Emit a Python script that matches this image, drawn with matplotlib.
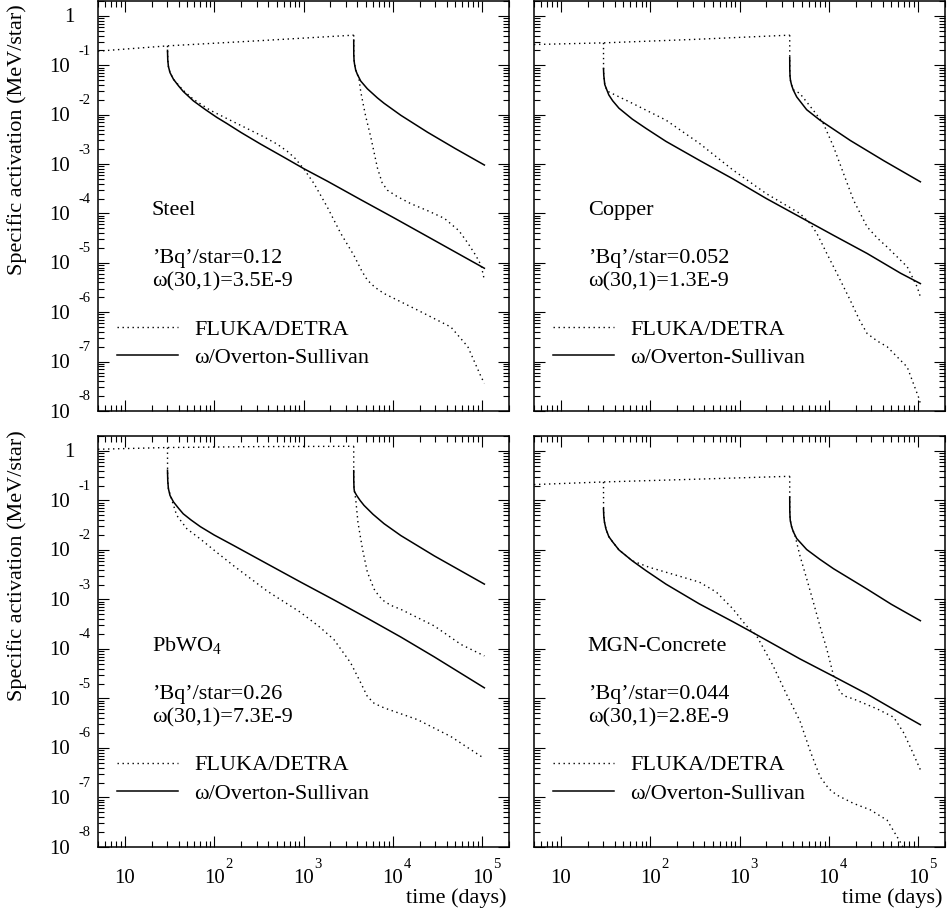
import numpy as np
import matplotlib
matplotlib.use("Agg")
import matplotlib.pyplot as plt
from matplotlib.lines import Line2D
from matplotlib.ticker import LogLocator, NullFormatter

plt.rcParams.update({
    "font.family": "Liberation Serif",
    "mathtext.fontset": "custom",
    "mathtext.rm": "Liberation Serif",
    "mathtext.it": "Liberation Serif:italic",
    "axes.linewidth": 1.1,
})

# ---------------------------------------------------------------------------
# Specific activation (MeV/star) versus time (days).
# Irradiation starts at t=0; cooling curves after 30 d and 3650 d irradiation.
# FD = FLUKA/DETRA, OS = omega/Overton-Sullivan
# ---------------------------------------------------------------------------

# Steel
STEEL_BUILD_T = [5, 30, 300, 3650]
STEEL_BUILD_A = [0.193, 0.247, 0.312, 0.407]
STEEL_FD30_T = [30, 30.05, 30.2, 30.7, 32, 35, 40, 45, 58.5, 90, 139, 329, 500, 656,
                800, 1000, 1306, 1845, 2606, 3673, 4500, 5190, 6300, 7943, 19000, 44700,
                69200, 97500, 1.06e5]
STEEL_FD30_A = [0.247, 0.200, 0.130, 0.095, 0.071, 0.052, 0.0395, 0.031, 0.0205, 0.0123,
                8.32e-3, 3.85e-3, 2.57e-3, 1.82e-3, 1.32e-3, 8.13e-4, 4.07e-4, 1.35e-4,
                3.98e-5, 1.41e-5, 6.8e-6, 4.47e-6, 3.2e-6, 2.40e-6, 1.10e-6, 5.01e-7,
                2.0e-7, 4.90e-8, 3.63e-8]
STEEL_OS30_T = [30, 30.2, 30.7, 32, 35, 40, 45, 58.5, 80, 107, 139, 200, 329, 600, 1000,
                1850, 4370, 10350, 24500, 1.06e5]
STEEL_OS30_A = [0.200, 0.130, 0.095, 0.071, 0.052, 0.038, 0.0295, 0.0190, 0.0126, 8.8e-3,
                6.6e-3, 4.35e-3, 2.55e-3, 1.38e-3, 8.13e-4, 4.5e-4, 1.9e-4, 8.1e-5, 3.4e-5,
                7.76e-6]
STEEL_FD3650_T = [3650, 3651, 3655, 3680, 3720, 3840, 4000, 4170, 4370, 4700, 4980, 5660,
                  6730, 7600, 8710, 11000, 15850, 25000, 37800, 55000, 69200, 85000,
                  97500, 1.06e5]
STEEL_FD3650_A = [0.407, 0.324, 0.17, 0.128, 0.108, 0.080, 0.066, 0.055, 0.0295, 0.0151,
                  9.12e-3, 3.55e-3, 8.3e-4, 4.17e-4, 2.95e-4, 2.24e-4, 1.58e-4, 1.12e-4,
                  7.94e-5, 4.47e-5, 2.51e-5, 1.41e-5, 8.91e-6, 4.47e-6]
STEEL_OS3650_T = [3650, 3655, 3680, 3720, 3840, 4000, 4370, 5190, 6730, 7980, 12300,
                  24500, 50000, 1.06e5]
STEEL_OS3650_A = [0.324, 0.17, 0.128, 0.108, 0.080, 0.066, 0.048, 0.0334, 0.0218, 0.0170,
                  9.7e-3, 4.4e-3, 2.06e-3, 9.55e-4]

# Copper
COPPER_BUILD_T = [5, 30, 300, 3650]
COPPER_BUILD_A = [0.263, 0.284, 0.333, 0.407]
COPPER_FD30_T = [30, 30.05, 30.2, 31, 33, 63, 150, 355, 843, 2000, 4740, 6150, 7330,
                 9490, 12300, 17400, 22000, 26800, 35000, 45000, 75500, 1.02e5, 1.06e5]
COPPER_FD30_A = [0.284, 0.0861, 0.0631, 0.0407, 0.030, 0.0170, 7.76e-3, 2.63e-3,
                 7.59e-4, 2.51e-4, 1.0e-4, 6.31e-5, 3.98e-5, 1.55e-5, 6.17e-6, 1.74e-6,
                 7.0e-7, 3.72e-7, 2.6e-7, 2.0e-7, 7.76e-8, 1.82e-8, 1.41e-8]
COPPER_OS30_T = [30, 30.2, 31, 34.4, 38, 44.7, 63, 90, 150, 355, 843, 2000, 4740, 11200,
                 26800, 63500, 1.06e5]
COPPER_OS30_A = [0.0861, 0.0631, 0.0407, 0.0251, 0.0191, 0.0135, 8.13e-3, 5.25e-3,
                 2.88e-3, 1.19e-3, 5.01e-4, 2.0e-4, 8.51e-5, 3.63e-5, 1.55e-5, 6.17e-6,
                 3.80e-6]
COPPER_FD3650_T = [3650, 3651, 3655, 3680, 3720, 3830, 4000, 4740, 6700, 8690, 11300,
                   14600, 18900, 26800, 35000, 45000, 75500, 97700, 1.06e5]
COPPER_FD3650_A = [0.407, 0.145, 0.085, 0.0600, 0.0494, 0.0398, 0.0320, 0.0269, 0.0123,
                   6.61e-3, 2.24e-3, 6.46e-4, 1.86e-4, 5.37e-5, 3.16e-5, 2.09e-5, 8.32e-6,
                   3.24e-6, 2.04e-6]
COPPER_OS3650_T = [3650, 3655, 3680, 3720, 3830, 4000, 4370, 5650, 7940, 17400, 41200,
                   1.06e5]
COPPER_OS3650_A = [0.145, 0.085, 0.0600, 0.0494, 0.0398, 0.0316, 0.0229, 0.0126, 7.76e-3,
                   3.0e-3, 1.17e-3, 4.37e-4]

# PbWO4
PBWO4_BUILD_T = [5, 30, 300, 3650]
PBWO4_BUILD_A = [1.08, 1.17, 1.22, 1.24]
PBWO4_FD30_T = [30, 30.05, 30.2, 30.7, 32.6, 38, 49.3, 70, 107, 165, 391, 925, 1500,
                2190, 3370, 4200, 5190, 6200, 7980, 19000, 44700, 97500, 1.06e5]
PBWO4_FD30_A = [1.17, 0.407, 0.251, 0.174, 0.120, 0.0501, 0.0269, 0.0166, 8.91e-3,
                4.79e-3, 1.48e-3, 5.50e-4, 2.82e-4, 1.55e-4, 5.25e-5, 2.4e-5, 1.10e-5,
                7.94e-6, 6.46e-6, 3.72e-6, 1.70e-6, 6.76e-7, 6.24e-7]
PBWO4_OS30_T = [30, 30.2, 30.7, 32, 35, 40, 45, 55, 70, 100, 165, 391, 925, 2190, 5190,
                12300, 29100, 1.06e5]
PBWO4_OS30_A = [0.407, 0.251, 0.174, 0.126, 0.0933, 0.069, 0.0537, 0.0403, 0.0295,
                0.0200, 0.0123, 5.25e-3, 2.25e-3, 9.8e-4, 4.17e-4, 1.74e-4, 6.92e-5,
                1.64e-5]
PBWO4_FD3650_T = [3650, 3651, 3655, 3680, 3840, 4070, 4300, 4570, 5190, 6170, 7000,
                  7940, 9500, 12300, 29100, 58100, 1.06e5]
PBWO4_FD3650_A = [1.24, 0.398, 0.251, 0.174, 0.107, 0.0363, 0.020, 0.0105, 3.55e-3,
                  1.62e-3, 1.17e-3, 9.33e-4, 7.6e-4, 6.31e-4, 2.92e-4, 1.23e-4, 7.24e-5]
PBWO4_OS3650_T = [3650, 3655, 3680, 3720, 3940, 4300, 4760, 6000, 7980, 12300, 29100,
                  1.06e5]
PBWO4_OS3650_A = [0.398, 0.251, 0.174, 0.151, 0.126, 0.100, 0.0794, 0.0525, 0.0339,
                  0.0195, 7.59e-3, 2.04e-3]

# MGN-Concrete
CONCRETE_BUILD_T = [5, 30, 300, 3650]
CONCRETE_BUILD_A = [0.209, 0.236, 0.267, 0.307]
CONCRETE_FD30_T = [30, 30.05, 30.2, 30.7, 32, 34.4, 38, 44.7, 63, 97, 150, 231, 355,
                   550, 843, 1190, 1550, 2380, 3370, 4740, 6300, 7980, 10000, 12300,
                   18900, 29200, 45000, 63100, 70000]
CONCRETE_FD30_A = [0.236, 0.0679, 0.0501, 0.0371, 0.0263, 0.0186, 0.0145, 0.0100,
                   6.03e-3, 4.47e-3, 3.55e-3, 2.82e-3, 2.24e-3, 1.41e-3, 6.46e-4, 2.95e-4,
                   1.86e-4, 4.57e-5, 1.20e-5, 3.55e-6, 7.94e-7, 2.63e-7, 1.5e-7, 1.12e-7,
                   7.59e-8, 5.62e-8, 3.47e-8, 1.26e-8, 8.91e-9]
CONCRETE_OS30_T = [30, 30.2, 30.7, 32, 34.4, 38, 44.7, 63, 90, 150, 355, 843, 1410,
                   4740, 11200, 26800, 75500, 1.06e5]
CONCRETE_OS30_A = [0.0679, 0.0501, 0.0371, 0.0263, 0.0186, 0.0145, 0.0100, 6.03e-3,
                   3.80e-3, 2.04e-3, 8.13e-4, 3.55e-4, 2.14e-4, 6.31e-5, 2.82e-5, 1.23e-5,
                   4.17e-6, 2.95e-6]
CONCRETE_FD3650_T = [3650, 3651, 3655, 3680, 3700, 3830, 4170, 4740, 5650, 6700, 7940,
                     9490, 11300, 13400, 15500, 18900, 34700, 53300, 69200, 85000,
                     1.06e5]
CONCRETE_FD3650_A = [0.307, 0.117, 0.0631, 0.0468, 0.0398, 0.0295, 0.020, 7.76e-3,
                     2.63e-3, 8.91e-4, 2.95e-4, 1.0e-4, 2.88e-5, 1.32e-5, 1.10e-5, 9.77e-6,
                     6.17e-6, 4.17e-6, 2.0e-6, 8.9e-7, 3.63e-7]
CONCRETE_OS3650_T = [3650, 3655, 3680, 3700, 3830, 4000, 4370, 5650, 7940, 11300, 26800,
                     50000, 1.06e5]
CONCRETE_OS3650_A = [0.117, 0.0631, 0.0468, 0.0398, 0.0295, 0.0234, 0.0170, 0.0102,
                     6.46e-3, 4.17e-3, 1.62e-3, 8.0e-4, 3.72e-4]

# Panel annotations
MATERIALS = ["Steel", "Copper", "PbWO$_4$", "MGN-Concrete"]
BQ_PER_STAR = ["0.12", "0.052", "0.26", "0.044"]
OMEGA_30_1 = ["3.5E-9", "1.3E-9", "7.3E-9", "2.8E-9"]
LEGEND_LABELS = ["FLUKA/DETRA", "\u03c9/Overton-Sullivan"]

X_DECADES = [1, 2, 3, 4, 5]
Y_DECADES = [0, -1, -2, -3, -4, -5, -6, -7, -8]

PX = 72.0 / 100.0          # points per pixel at dpi=100
DOTTED = dict(color="black", lw=1.0, linestyle=(0, (1.0, 2.6)))
SOLID = dict(color="black", lw=1.1, linestyle="-")
BASE_FS = 15
EXP_FS = 10.5
TEXT_FS = 16


def decade_labels_x(ax):
    tr = ax.get_xaxis_transform()
    for k in X_DECADES:
        ax.annotate("10", xy=(10.0 ** k, 0), xycoords=tr, xytext=(0, -36 * PX),
                    textcoords="offset points", ha="center", va="baseline",
                    fontsize=BASE_FS, annotation_clip=False)
        if k > 1:
            ax.annotate(str(k), xy=(10.0 ** k, 0), xycoords=tr,
                        xytext=(11 * PX, -21 * PX), textcoords="offset points",
                        ha="left", va="baseline", fontsize=EXP_FS,
                        annotation_clip=False)
    ax.text(0.995, -56.0 / 411.0, "time (days)", transform=ax.transAxes, ha="right",
            va="baseline", fontsize=TEXT_FS)


def decade_labels_y(ax):
    tr = ax.get_yaxis_transform()
    for k in Y_DECADES:
        if k == 0:
            ax.annotate("1", xy=(0, 1.0), xycoords=tr, xytext=(-23 * PX, -6.5 * PX),
                        textcoords="offset points", ha="right", va="baseline",
                        fontsize=BASE_FS, annotation_clip=False)
            continue
        ax.annotate("10", xy=(0, 10.0 ** k), xycoords=tr, xytext=(-28 * PX, -6.5 * PX),
                    textcoords="offset points", ha="right", va="baseline",
                    fontsize=BASE_FS, annotation_clip=False)
        ax.annotate(str(k), xy=(0, 10.0 ** k), xycoords=tr, xytext=(-20 * PX, 10.5 * PX),
                    textcoords="offset points", ha="left", va="baseline",
                    fontsize=EXP_FS, annotation_clip=False)


def draw_panel(ax, build, fd30, fd3650, os30, os3650, idx, bottom, left):
    ax.plot(*build, **DOTTED)
    ax.plot(*fd30, **DOTTED)
    ax.plot(*fd3650, **DOTTED)
    ax.plot(*os30, **SOLID)
    ax.plot(*os3650, **SOLID)

    ax.set_xscale("log")
    ax.set_yscale("log")
    ax.set_xlim(5, 2.0e5)
    ax.set_ylim(1e-8, 2.0)
    for axis in (ax.xaxis, ax.yaxis):
        axis.set_major_locator(LogLocator(base=10, numticks=30))
        axis.set_minor_locator(LogLocator(base=10, subs=np.arange(2, 10), numticks=30))
        axis.set_minor_formatter(NullFormatter())
    ax.tick_params(which="both", direction="in", top=True, right=True,
                   labelbottom=False, labelleft=False, width=0.8)
    ax.tick_params(which="major", length=8.0)
    ax.tick_params(which="minor", length=4.3)

    ax.text(0.131, 0.478, MATERIALS[idx], transform=ax.transAxes,
            fontsize=TEXT_FS, va="baseline")
    ax.text(0.131, 0.360, "\u2019Bq\u2019/star=" + BQ_PER_STAR[idx],
            transform=ax.transAxes, fontsize=TEXT_FS, va="baseline")
    ax.text(0.131, 0.303, "\u03c9(30,1)=" + OMEGA_30_1[idx],
            transform=ax.transAxes, fontsize=TEXT_FS, va="baseline")

    handles = [Line2D([], [], **DOTTED), Line2D([], [], **SOLID)]
    ax.legend(handles, LEGEND_LABELS, loc="upper left", bbox_to_anchor=(0.046, 0.2245),
              frameon=False, fontsize=TEXT_FS, handlelength=2.77, handletextpad=0.72,
              labelspacing=0.35, borderpad=0.0, borderaxespad=0.0)

    if bottom:
        decade_labels_x(ax)
    if left:
        decade_labels_y(ax)
        ycen = 0.663 if not bottom else 0.684
        ax.text(-0.196, ycen, "Specific activation (MeV/star)", transform=ax.transAxes,
                rotation=90, ha="center", va="center", fontsize=TEXT_FS)


fig = plt.figure(figsize=(9.47, 9.16), dpi=100)
W, H = 947.0, 916.0
ax_w, ax_h = 411.0 / W, 410.0 / H
ax_tl = fig.add_axes([98 / W, (H - 411) / H, ax_w, ax_h])
ax_tr = fig.add_axes([534 / W, (H - 411) / H, ax_w, ax_h])
ax_bl = fig.add_axes([98 / W, (H - 847) / H, ax_w, 411.0 / H])
ax_br = fig.add_axes([534 / W, (H - 847) / H, ax_w, 411.0 / H])

draw_panel(ax_tl, (STEEL_BUILD_T, STEEL_BUILD_A), (STEEL_FD30_T, STEEL_FD30_A),
           (STEEL_FD3650_T, STEEL_FD3650_A), (STEEL_OS30_T, STEEL_OS30_A),
           (STEEL_OS3650_T, STEEL_OS3650_A), 0, bottom=False, left=True)
draw_panel(ax_tr, (COPPER_BUILD_T, COPPER_BUILD_A), (COPPER_FD30_T, COPPER_FD30_A),
           (COPPER_FD3650_T, COPPER_FD3650_A), (COPPER_OS30_T, COPPER_OS30_A),
           (COPPER_OS3650_T, COPPER_OS3650_A), 1, bottom=False, left=False)
draw_panel(ax_bl, (PBWO4_BUILD_T, PBWO4_BUILD_A), (PBWO4_FD30_T, PBWO4_FD30_A),
           (PBWO4_FD3650_T, PBWO4_FD3650_A), (PBWO4_OS30_T, PBWO4_OS30_A),
           (PBWO4_OS3650_T, PBWO4_OS3650_A), 2, bottom=True, left=True)
draw_panel(ax_br, (CONCRETE_BUILD_T, CONCRETE_BUILD_A),
           (CONCRETE_FD30_T, CONCRETE_FD30_A),
           (CONCRETE_FD3650_T, CONCRETE_FD3650_A),
           (CONCRETE_OS30_T, CONCRETE_OS30_A),
           (CONCRETE_OS3650_T, CONCRETE_OS3650_A), 3, bottom=True, left=False)

fig.savefig("out.png", dpi=100)
